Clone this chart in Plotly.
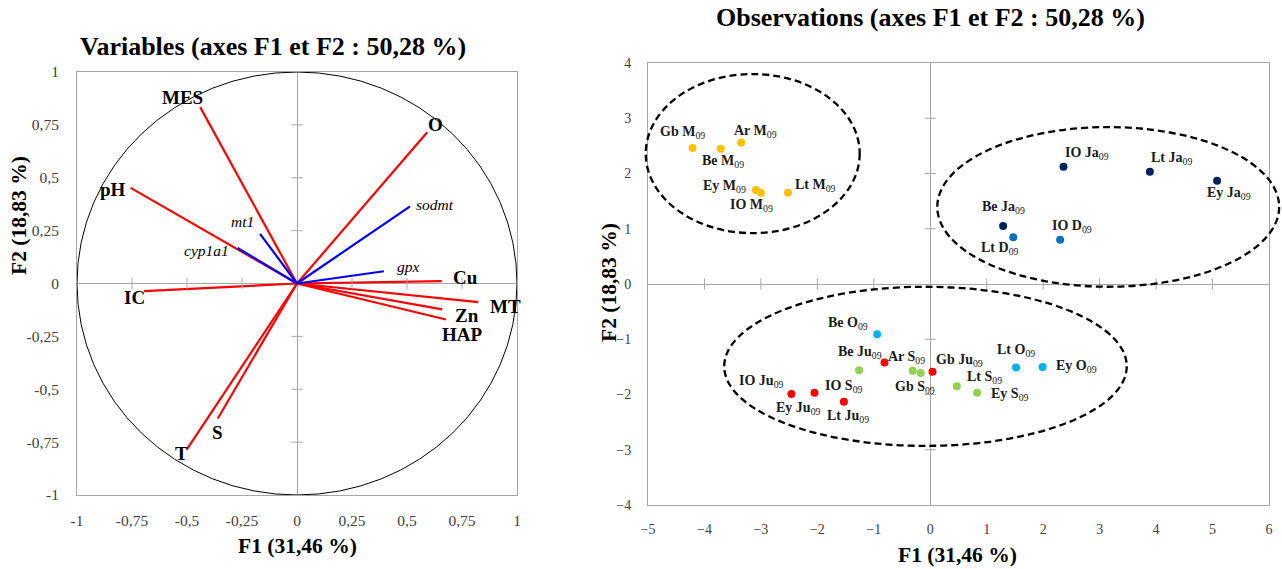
import plotly.graph_objects as go

W, H = 1282, 569
FONT = "Liberation Serif"
GRAY = "#A6A6A6"
TICKCOL = "#404040"

# ---------------- Data: correlation circle (variables) ----------------
var_names = ["MES", "O", "pH", "IC", "Cu", "MT", "Zn", "HAP", "S", "T"]
var_f1 = [-0.44, 0.592, -0.756, -0.695, 0.658, 0.824, 0.66, 0.677, -0.36, -0.499]
var_f2 = [0.834, 0.715, 0.452, -0.036, 0.011, -0.088, -0.122, -0.170, -0.638, -0.782]

gene_names = ["sodmt", "mt1", "cyp1a1", "gpx"]
gene_f1 = [0.514, -0.168, -0.27, 0.395]
gene_f2 = [0.365, 0.235, 0.168, 0.058]

circle_ticks = [-1, -0.75, -0.5, -0.25, 0, 0.25, 0.5, 0.75, 1]
circle_ticktext = ["-1", "-0,75", "-0,5", "-0,25", "0", "0,25", "0,5", "0,75", "1"]

# ---------------- Data: observations ----------------
obs_site = ["Gb", "Be", "Ar", "Ey", "IO", "Lt",
            "IO", "Lt", "Ey", "Be",
            "Lt", "IO",
            "Be", "Lt", "Ey",
            "IO", "Ey", "Lt", "Be", "Gb",
            "IO", "Ar", "Gb", "Lt", "Ey"]
obs_month = ["M", "M", "M", "M", "M", "M",
             "Ja", "Ja", "Ja", "Ja",
             "D", "D",
             "O", "O", "O",
             "Ju", "Ju", "Ju", "Ju", "Ju",
             "S", "S", "S", "S", "S"]
obs_f1 = [-4.21, -3.71, -3.35, -3.09, -3.00, -2.52,
          2.36, 3.89, 5.08, 1.29,
          1.47, 2.30,
          -0.94, 1.52, 1.99,
          -2.46, -2.05, -1.53, -0.81, 0.04,
          -1.26, -0.31, -0.17, 0.47, 0.83]
obs_f2 = [2.46, 2.45, 2.56, 1.70, 1.65, 1.65,
          2.12, 2.03, 1.87, 1.05,
          0.845, 0.80,
          -0.91, -1.51, -1.50,
          -1.99, -1.97, -2.13, -1.42, -1.59,
          -1.56, -1.57, -1.61, -1.85, -1.97]
obs_xticks = [-5, -4, -3, -2, -1, 0, 1, 2, 3, 4, 5, 6]
obs_yticks = [-4, -3, -2, -1, 0, 1, 2, 3, 4]

# group envelopes (center x, center y, half-width, half-height) in F1/F2 units
groups = [(-3.145, 2.36, 1.895, 1.44),
          (3.152, 1.395, 3.028, 1.445),
          (-0.085, -1.49, 3.565, 1.44)]

# ---------------- Styling ----------------
month_colors = {"M": "#FFC000", "Ja": "#002060", "D": "#0070C0",
                "O": "#00B0F0", "Ju": "#FF0000", "S": "#92D050"}

# label offsets (pixels)
var_shift = [(-18, 10), (8, 8), (-18, -2), (-10, -6), (24, 4), (27, -4),
             (25, -6), (17, -15), (0, -14), (-6, -5)]
gene_shift = [(25, 2), (-18, 12), (-31, -3), (25, 5)]
obs_shift = [(-10, 16), (2, -13), (14, 11), (-31, 4), (-9, -13), (27, 7),
             (23, 13), (22, 13), (12, -13), (0, 18),
             (-13, -11), (12, 13),
             (-29, 11), (0, 17), (34, 0),
             (-30, 12), (-16, -16), (4, -15), (-25, 10), (27, 11),
             (-15, -16), (-6, 13), (-6, -15), (28, 9), (33, -2)]

# subplot placement (pixel frame)
L_X = (77, 517); L_Y = (72, 495)
R_X = (648, 1269); R_Y = (63, 505)


def dom_x(p):
    return [p[0] / W, p[1] / W]


def dom_y(p):
    return [1 - p[1] / H, 1 - p[0] / H]


fig = go.Figure()

# ---- Left: vectors ----
vx, vy = [], []
for a, b in zip(var_f1, var_f2):
    vx += [0, a, None]; vy += [0, b, None]
fig.add_trace(go.Scatter(x=vx, y=vy, mode="lines", line=dict(color="#FF0000", width=2.2),
                         xaxis="x", yaxis="y", hoverinfo="skip", showlegend=False))
gx, gy = [], []
for a, b in zip(gene_f1, gene_f2):
    gx += [0, a, None]; gy += [0, b, None]
fig.add_trace(go.Scatter(x=gx, y=gy, mode="lines", line=dict(color="#0000FF", width=2.2),
                         xaxis="x", yaxis="y", hoverinfo="skip", showlegend=False))

# tick marks on the zero lines (left)
inner = [t for t in circle_ticks if t != 0 and abs(t) != 1]
fig.add_trace(go.Scatter(x=inner, y=[0] * len(inner), mode="markers",
                         marker=dict(symbol="line-ns", size=8, line=dict(width=1, color=GRAY)),
                         xaxis="x", yaxis="y", hoverinfo="skip", showlegend=False))
fig.add_trace(go.Scatter(x=[0] * len(inner), y=inner, mode="markers",
                         marker=dict(symbol="line-ew", size=8, line=dict(width=1, color=GRAY)),
                         xaxis="x", yaxis="y", hoverinfo="skip", showlegend=False))

# ---- Right: tick marks on zero lines ----
rx_in = [t for t in obs_xticks if t not in (0, obs_xticks[0], obs_xticks[-1])]
ry_in = [t for t in obs_yticks if t not in (0, obs_yticks[0], obs_yticks[-1])]
fig.add_trace(go.Scatter(x=rx_in, y=[0] * len(rx_in), mode="markers",
                         marker=dict(symbol="line-ns", size=8, line=dict(width=1, color=GRAY)),
                         xaxis="x2", yaxis="y2", hoverinfo="skip", showlegend=False))
fig.add_trace(go.Scatter(x=[0] * len(ry_in), y=ry_in, mode="markers",
                         marker=dict(symbol="line-ew", size=8, line=dict(width=1, color=GRAY)),
                         xaxis="x2", yaxis="y2", hoverinfo="skip", showlegend=False))

# ---- Right: observations ----
fig.add_trace(go.Scatter(x=obs_f1, y=obs_f2, mode="markers",
                         marker=dict(size=8, color=[month_colors[m] for m in obs_month]),
                         xaxis="x2", yaxis="y2", showlegend=False,
                         text=[f"{s} {m}09" for s, m in zip(obs_site, obs_month)],
                         hoverinfo="text"))

annotations = []
# variable labels
for n, a, b, (dx, dy) in zip(var_names, var_f1, var_f2, var_shift):
    annotations.append(dict(x=a, y=b, xref="x", yref="y", text=f"<b>{n}</b>", showarrow=False,
                            xanchor="center", yanchor="middle",
                            xshift=dx, yshift=dy, font=dict(family=FONT, size=19, color="#000")))
for n, a, b, (dx, dy) in zip(gene_names, gene_f1, gene_f2, gene_shift):
    annotations.append(dict(x=a, y=b, xref="x", yref="y", text=f"<i>{n}</i>", showarrow=False,
                            xanchor="center", yanchor="middle",
                            xshift=dx, yshift=dy, font=dict(family=FONT, size=15.5, color="#000")))
# observation labels
for s, m, a, b, (dx, dy) in zip(obs_site, obs_month, obs_f1, obs_f2, obs_shift):
    annotations.append(dict(x=a, y=b, xref="x2", yref="y2",
                            text=f"<b>{s} {m}</b><sub>09</sub>", showarrow=False,
                            xanchor="center", yanchor="middle",
                            xshift=dx, yshift=dy, font=dict(family=FONT, size=14, color="#1a1a1a")))

# titles
annotations.append(dict(x=273 / W, y=1 - 47 / H, xref="paper", yref="paper", showarrow=False,
                        xanchor="center", yanchor="middle",
                        text="<b>Variables (axes F1 et F2 : 50,28 %)</b>",
                        font=dict(family=FONT, size=26, color="#000")))
annotations.append(dict(x=930 / W, y=1 - 18 / H, xref="paper", yref="paper", showarrow=False,
                        xanchor="center", yanchor="middle",
                        text="<b>Observations (axes F1 et F2 : 50,28 %)</b>",
                        font=dict(family=FONT, size=26, color="#000")))
# axis titles
for (px, py, txt, ang) in [(297, 546, "F1 (31,46 %)", 0), (19, 216, "F2 (18,83 %)", -90),
                           (957, 555, "F1 (31,46 %)", 0), (609, 283, "F2 (18,83 %)", -90)]:
    annotations.append(dict(x=px / W, y=1 - py / H, xref="paper", yref="paper", showarrow=False,
                            xanchor="center", yanchor="middle",
                            text=f"<b>{txt}</b>", textangle=ang,
                            font=dict(family=FONT, size=21.5, color="#000")))

# shapes
shapes = [dict(type="circle", xref="x", yref="y", x0=-1, y0=-1, x1=1, y1=1,
               line=dict(color="#000", width=1))]
rx_range = (obs_xticks[0], obs_xticks[-1]); ry_range = (obs_yticks[0], obs_yticks[-1])


def to_px(v, rng, dom):
    return dom[0] + (v - rng[0]) / (rng[1] - rng[0]) * (dom[1] - dom[0])


dxr = dom_x(R_X); dyr = dom_y(R_Y)
for cx, cy, hw, hh in groups:
    shapes.append(dict(type="circle", xref="paper", yref="paper",
                       x0=to_px(cx - hw, rx_range, dxr), x1=to_px(cx + hw, rx_range, dxr),
                       y0=to_px(cy - hh, ry_range, dyr), y1=to_px(cy + hh, ry_range, dyr),
                       line=dict(color="#000", width=2.3, dash="7px,4px")))

axis_common = dict(showgrid=False, showline=True, mirror=True, linecolor=GRAY, linewidth=1,
                   zeroline=True, zerolinecolor=GRAY, zerolinewidth=1, ticks="",
                   automargin=False, fixedrange=True)
left_tf = dict(family=FONT, size=15.5, color=TICKCOL)
right_tf = dict(family=FONT, size=14, color=TICKCOL)

fig.update_layout(
    width=W, height=H, margin=dict(l=0, r=0, t=0, b=0, autoexpand=False),
    paper_bgcolor="white", plot_bgcolor="white", showlegend=False,
    xaxis=dict(domain=dom_x(L_X), range=[-1, 1], tickvals=circle_ticks, ticktext=circle_ticktext,
               anchor="y", ticklabelstandoff=11, tickfont=left_tf, **axis_common),
    yaxis=dict(domain=dom_y(L_Y), range=[-1, 1], tickvals=circle_ticks, ticktext=circle_ticktext,
               anchor="x", ticklabelstandoff=14, tickfont=left_tf, **axis_common),
    xaxis2=dict(domain=dxr, range=list(rx_range), tickvals=obs_xticks,
                anchor="y2", ticklabelstandoff=11, tickfont=right_tf, **axis_common),
    yaxis2=dict(domain=dyr, range=list(ry_range), tickvals=obs_yticks,
                anchor="x2", ticklabelstandoff=13, tickfont=right_tf, **axis_common),
    annotations=annotations, shapes=shapes,
)

fig.write_html("out.html", post_script="document.body.style.margin='0';",
               config={"displayModeBar": False})
